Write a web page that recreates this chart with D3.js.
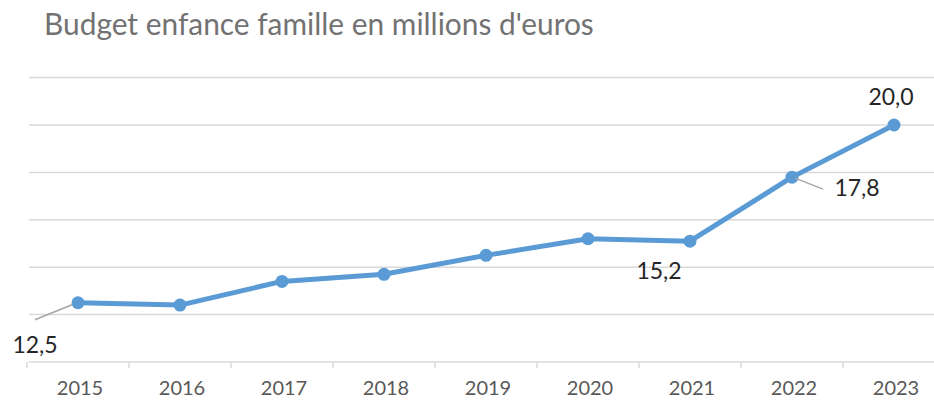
<!DOCTYPE html>
<html>
<head>
  <meta charset="utf-8">
  <title>Budget enfance famille</title>
  <script src="https://cdn.jsdelivr.net/npm/d3@7"></script>
  <style>
    body { margin: 0; background: #fff; }
    text { font-family: Lato, "Open Sans", sans-serif; }
  </style>
</head>
<body>
<script>
  // data
  var years = ["2015", "2016", "2017", "2018", "2019", "2020", "2021", "2022", "2023"];
  var budget = [12.5, 12.4, 13.4, 13.7, 14.5, 15.2, 15.1, 17.8, 20.0];
  var gridValues = [10, 12, 14, 16, 18, 20, 22];
  // which points carry a value label
  var labelled = ["2015", "2021", "2022", "2023"];
  var labelText = ["12,5", "15,2", "17,8", "20,0"];

  var width = 934, height = 401;

  var svg = d3.select("body").append("svg")
      .attr("width", width)
      .attr("height", height);

  var x = d3.scalePoint().domain(years).range([27, 945]).padding(0.5);
  var y = d3.scaleLinear().domain([10, 22]).range([362, 77.6]);

  // title
  var title = svg.append("text")
      .attr("x", 44)
      .attr("y", 35)
      .attr("fill", "#727272")
      .style("font-size", "24px")
      .text("Budget enfance famille en millions d'euros");
  // squeeze to the width of the original
  var tw = title.node().getComputedTextLength();
  title.style("font-size", (24 * 550 / tw) + "px");

  // gridlines
  svg.append("g").selectAll("line")
    .data(gridValues.slice(1))
    .enter().append("line")
      .attr("x1", 29).attr("x2", width)
      .attr("y1", function(d) { return y(d); })
      .attr("y2", function(d) { return y(d); })
      .attr("stroke", "#d9d9d9")
      .attr("stroke-width", 1.5);

  // x axis
  var band = x.step();
  var xAxis = svg.append("g");
  xAxis.append("line")
      .attr("x1", 29).attr("x2", width)
      .attr("y1", y(10)).attr("y2", y(10))
      .attr("stroke", "#d9d9d9")
      .attr("stroke-width", 1.5);
  xAxis.selectAll(".tick")
    .data(years)
    .enter().append("line")
      .attr("x1", function(d) { return x(d) - band / 2; })
      .attr("x2", function(d) { return x(d) - band / 2; })
      .attr("y1", y(10)).attr("y2", y(10) + 6)
      .attr("stroke", "#d9d9d9")
      .attr("stroke-width", 1.5);
  xAxis.selectAll("text")
    .data(years)
    .enter().append("text")
      .attr("x", function(d) { return x(d) + 2; })
      .attr("y", 395)
      .attr("text-anchor", "middle")
      .attr("fill", "#595959")
      .style("font-size", "20px")
      .text(function(d) { return d; });

  // line
  var pts = years.map(function(d, i) { return {year: d, v: budget[i]}; });
  var line = d3.line()
      .x(function(d) { return x(d.year); })
      .y(function(d) { return y(d.v); });

  svg.append("path")
      .datum(pts)
      .attr("d", line)
      .attr("fill", "none")
      .attr("stroke", "#5b9bd5")
      .attr("stroke-width", 5)
      .attr("stroke-linejoin", "round");

  svg.append("g").selectAll("circle")
    .data(pts)
    .enter().append("circle")
      .attr("cx", function(d) { return x(d.year); })
      .attr("cy", function(d) { return y(d.v); })
      .attr("r", 6.5)
      .attr("fill", "#5b9bd5");

  // value labels with leader lines
  var offsets = {
    "2015": {dx: -43, dy: 50, lead: [[-6, 2], [-43, 17]]},
    "2021": {dx: -31, dy: 38, lead: null},
    "2022": {dx: 65, dy: 19, lead: [[3, 1], [31, 12]]},
    "2023": {dx: -3, dy: -20, lead: null}
  };
  labelled.forEach(function(yr, i) {
    var v = budget[years.indexOf(yr)];
    var px = x(yr), py = y(v);
    var o = offsets[yr];
    if (o.lead) {
      svg.append("line")
          .attr("x1", px + o.lead[0][0]).attr("y1", py + o.lead[0][1])
          .attr("x2", px + o.lead[1][0]).attr("y2", py + o.lead[1][1])
          .attr("stroke", "#a6a6a6")
          .attr("stroke-width", 1.5);
    }
    svg.append("text")
        .attr("x", px + o.dx)
        .attr("y", py + o.dy)
        .attr("text-anchor", "middle")
        .attr("fill", "#262626")
        .style("font-size", "23px")
        .text(labelText[i]);
  });
</script>
</body>
</html>
